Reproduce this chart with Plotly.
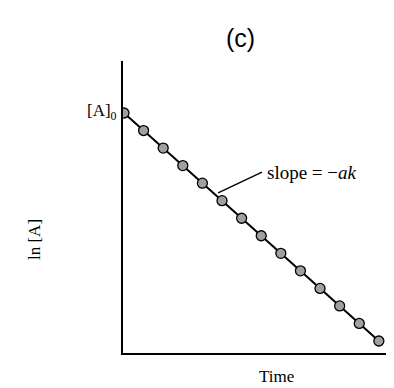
import plotly.graph_objects as go

# Data (arbitrary units)
time = [0, 1, 2, 3, 4, 5, 6, 7, 8, 9, 10, 11, 12, 13]
ln_A = [13.0, 12.0, 11.0, 10.0, 9.0, 8.0, 7.0, 6.0, 5.0, 4.0, 3.0, 2.0, 1.0, 0.0]

serif = "Liberation Serif, Times New Roman, serif"

fig = go.Figure()
fig.add_trace(go.Scatter(
    x=time, y=ln_A, mode="lines+markers",
    line=dict(color="black", width=2),
    marker=dict(size=10, color="#a0a0a0", line=dict(color="black", width=1.3)),
    showlegend=False, hoverinfo="skip",
))

fig.update_layout(
    width=386, height=380,
    margin=dict(l=115, r=2, t=53, b=35),
    paper_bgcolor="white", plot_bgcolor="white",
    xaxis=dict(range=[-0.05, 13.67], showgrid=False, zeroline=False,
               showticklabels=False, ticks="", showline=True,
               linecolor="black", linewidth=1.8),
    yaxis=dict(range=[-0.684, 15.965], showgrid=False, zeroline=False,
               showticklabels=False, ticks="", showline=True,
               linecolor="black", linewidth=1.8),
    font=dict(family=serif, color="black", size=16),
)

fig.add_annotation(x=time[0], y=ln_A[0], xref="x", yref="y",
                   text="[A]<sub>0</sub>", showarrow=False,
                   xanchor="right", yanchor="middle", xshift=-5, yshift=1,
                   font=dict(family=serif, size=17))
fig.add_annotation(x=-0.327, y=0.387, xref="paper", yref="paper",
                   text="ln [A]", showarrow=False, textangle=-90,
                   xanchor="center", yanchor="middle",
                   font=dict(family=serif, size=17))
fig.add_annotation(x=0.572, y=-0.079, xref="paper", yref="paper",
                   text="Time", showarrow=False,
                   xanchor="center", yanchor="middle",
                   font=dict(family=serif, size=17))
fig.add_annotation(x=0.435, y=1.079, xref="paper", yref="paper",
                   text="(c)", showarrow=False,
                   xanchor="center", yanchor="middle",
                   font=dict(family="Liberation Sans, Arial, sans-serif", size=25))
# pointer line
fig.add_shape(type="line", xref="x", yref="y",
              x0=4.8, y0=8.44, x1=7.04, y1=9.63,
              line=dict(color="black", width=1.4))
fig.add_annotation(x=7.2, y=9.63, xref="x", yref="y",
                   text="slope = \u2212<i>ak</i>", showarrow=False,
                   xanchor="left", yanchor="middle",
                   font=dict(family=serif, size=19))

fig.write_html("out.html")
